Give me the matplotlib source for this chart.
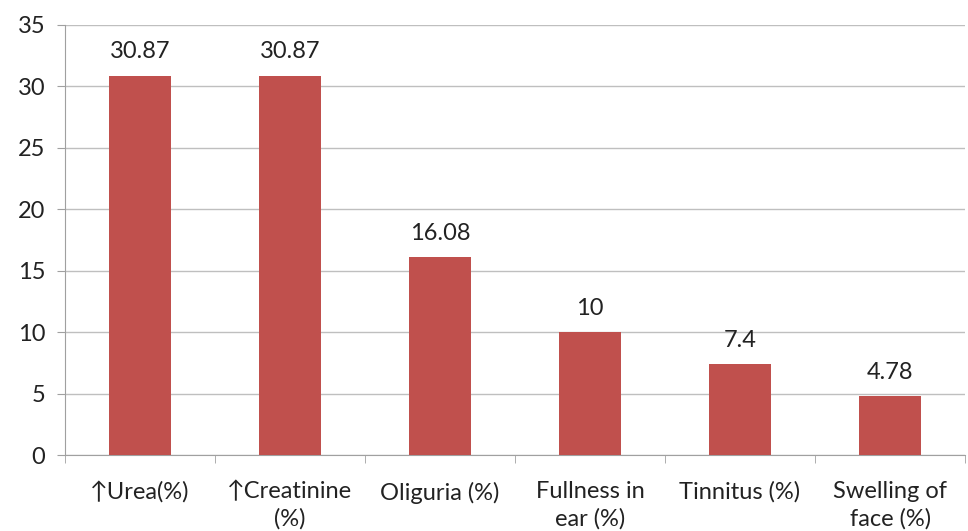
import matplotlib.pyplot as plt
import numpy as np

# symptom frequencies
categories = ["\u2191Urea(%)", "\u2191Creatinine\n(%)", "Oliguria (%)",
              "Fullness in\near (%)", "Tinnitus (%)", "Swelling of\nface (%)"]
values = [30.87, 30.87, 16.08, 10, 7.4, 4.78]
value_labels = ["30.87", "30.87", "16.08", "10", "7.4", "4.78"]

plt.rcParams['font.family'] = ['Lato', 'DejaVu Sans']

fig = plt.figure(figsize=(9.68, 5.31), dpi=100)
ax = fig.add_axes([0.067, 0.143, 0.93, 0.81])

x = np.arange(len(categories))
bars = ax.bar(x, values, width=0.41, color="#C0504D", zorder=3)

for xi, v, lab in zip(x, values, value_labels):
    ax.text(xi, v + 1.1, lab, ha="center", va="bottom", fontsize=17, color="#222222")

ax.set_xlim(-0.5, len(categories) - 0.5)
ax.set_ylim(0, 35)
ax.set_yticks(range(0, 36, 5))
ax.tick_params(axis="y", length=6, color="#A0A0A0", labelsize=17, pad=8, labelcolor="#222222")
ax.yaxis.grid(True, color="#BFBFBF", linewidth=1, zorder=0)

# category labels centred, tick marks between categories
ax.set_xticks(x)
ax.set_xticklabels(categories, fontsize=17, color="#222222", linespacing=1.3)
ax.tick_params(axis="x", length=0, pad=19)
ax.set_xticks(np.arange(-0.5, len(categories)), minor=True)
ax.tick_params(axis="x", which="minor", length=6, color="#A0A0A0", direction="out")

for side in ["top", "right"]:
    ax.spines[side].set_visible(False)
for side in ["left", "bottom"]:
    ax.spines[side].set_color("#A0A0A0")

fig.savefig("out.png", dpi=100)
